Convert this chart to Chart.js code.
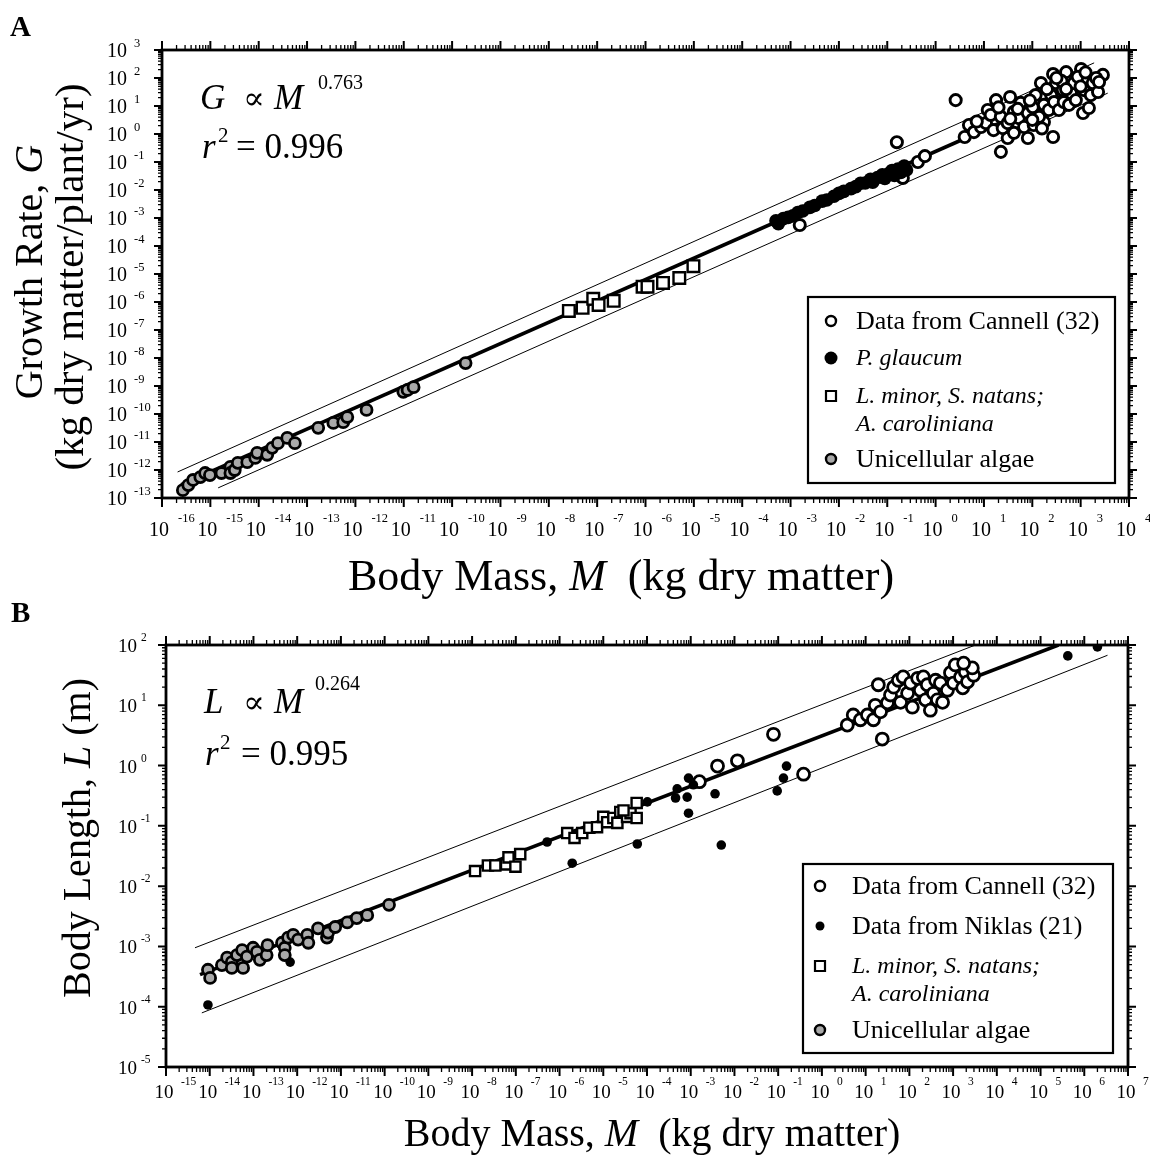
<!DOCTYPE html>
<html><head><meta charset="utf-8">
<script src="https://cdn.jsdelivr.net/npm/chart.js@4.4.0/dist/chart.umd.min.js"></script>
<style>
html,body{margin:0;padding:0;background:#fff;}
#wrap{position:relative;width:1150px;height:1155px;overflow:hidden;background:#fff;}
canvas{position:absolute;left:0;top:0;}
</style></head><body>
<div id="wrap">
<canvas id="cA" width="1150" height="1155" style="width:1150px;height:1155px"></canvas>
<canvas id="cB" width="1150" height="1155" style="width:1150px;height:1155px"></canvas>
</div>
<script>
// ---------- Panel A data (body mass M, growth rate G) ----------
const cannellA_M = [1.55e-3, 0.158, 0.21, 0.43, 0.60, 2.6, 4.0, 22.4, 269, 1120, 1480, 2880, 1020, 501, 269, 151, 309, 81, 174, 31, 17.8, 34.7, 12.0, 4.9, 6.2, 8.7, 11.0, 13.8, 15.8, 22.4, 24.5, 31, 41.7, 41.7, 52.5, 57.5, 67.6, 81, 102, 107, 117, 138, 174, 219, 245, 282, 355, 427, 447, 575, 631, 724, 794, 871, 1175, 1410, 1620, 1780, 2090, 2290, 2400, 7.1, 20, 50, 89, 200, 400, 158, 35, 100, 500, 1000, 316, 1260];
const cannellA_G = [5.6e-4, 0.51, 2.7e-2, 0.1, 0.162, 16.2, 0.78, 0.23, 0.78, 5.6, 8.5, 129, 209, 162, 138, 66, 66, 0.72, 2.7, 0.72, 16.2, 20.9, 7.2, 2.1, 1.17, 1.78, 2.45, 4.8, 1.38, 4.1, 1.62, 2.45, 6.2, 1.1, 3.7, 12.9, 1.78, 5.6, 9.1, 2.1, 24.5, 4.1, 11.0, 7.2, 24.5, 13.8, 7.2, 37, 13.8, 11.0, 28.8, 66, 16.2, 110, 37, 85, 24.5, 66, 100, 31.6, 72, 2.8, 8.9, 7.9, 15.8, 40, 79, 1.58, 3.5, 3.2, 40, 50, 100, 158];
const glaucumA_M = [5.0e-4, 5.6e-4, 7.1e-4, 8.9e-4, 1.12e-3, 1.41e-3, 1.78e-3, 2.5e-3, 3.16e-3, 4.5e-3, 5.6e-3, 7.9e-3, 1.0e-2, 1.26e-2, 1.78e-2, 2.24e-2, 2.8e-2, 3.5e-2, 4.5e-2, 5.0e-2, 6.3e-2, 7.9e-2, 8.9e-2, 0.112, 0.126, 0.141, 0.166, 0.19, 0.224, 0.25];
const glaucumA_G = [7.9e-4, 6.3e-4, 9.5e-4, 1.05e-3, 1.2e-3, 1.58e-3, 1.78e-3, 2.4e-3, 2.8e-3, 4.0e-3, 4.4e-3, 6.0e-3, 7.6e-3, 8.9e-3, 1.12e-2, 1.32e-2, 1.74e-2, 1.78e-2, 2.4e-2, 1.9e-2, 2.8e-2, 3.5e-2, 2.6e-2, 4.0e-2, 5.0e-2, 3.3e-2, 5.6e-2, 4.2e-2, 7.1e-2, 5.2e-2];
const lemnaA_M = [2.6e-8, 5.0e-8, 8.3e-8, 1.07e-7, 2.2e-7, 8.7e-7, 1.1e-6, 2.3e-6, 5.0e-6, 9.8e-6];
const lemnaA_G = [4.8e-7, 6.2e-7, 1.3e-6, 7.8e-7, 1.1e-6, 3.5e-6, 3.5e-6, 4.8e-6, 7.2e-6, 1.9e-5];
const algaeA_M = [2.7e-16, 3.5e-16, 4.4e-16, 6.2e-16, 7.8e-16, 9.8e-16, 1.7e-15, 2.6e-15, 2.6e-15, 3.2e-15, 3.7e-15, 5.8e-15, 8.5e-15, 9.3e-15, 1.5e-14, 1.9e-14, 2.5e-14, 3.9e-14, 5.6e-14, 1.7e-13, 3.5e-13, 5.6e-13, 6.8e-13, 1.7e-12, 9.8e-12, 1.2e-11, 1.6e-11, 1.9e-10];
const algaeA_G = [1.9e-13, 2.9e-13, 4.4e-13, 5.6e-13, 7.8e-13, 6.6e-13, 7.8e-13, 1.3e-12, 7.8e-13, 1.0e-12, 1.8e-12, 1.9e-12, 2.7e-12, 4.1e-12, 3.5e-12, 6.2e-12, 9.1e-12, 1.4e-11, 9.1e-12, 3.2e-11, 4.8e-11, 5.1e-11, 7.8e-11, 1.4e-10, 6.2e-10, 7.2e-10, 9.1e-10, 6.6e-9];
const fitA_M = [2.5e-16, 2820], fitA_G = [3.0e-13, 102];
const upperA_M = [2.1e-16, 1900], upperA_G = [8.5e-13, 347];
const lowerA_M = [1.45e-15, 3630], lowerA_G = [2.3e-13, 28.8];
const xExpA = [-16, -15, -14, -13, -12, -11, -10, -9, -8, -7, -6, -5, -4, -3, -2, -1, 0, 1, 2, 3, 4];
const yExpA = [-13, -12, -11, -10, -9, -8, -7, -6, -5, -4, -3, -2, -1, 0, 1, 2, 3];

// ---------- Panel B data (body mass M, body length L) ----------
const cannellB_M = [1.58e-3, 4.1e-3, 1.17e-2, 7.8e-2, 0.38, 19.5, 24, 3.8, 5.2, 7.6, 11, 15.1, 16.6, 21.9, 31.6, 37, 43.7, 56, 63, 72, 91, 107, 117, 155, 178, 209, 234, 257, 302, 355, 398, 437, 513, 575, 741, 871, 1020, 1120, 1480, 1660, 1900, 2140, 2950, 2750, 1740];
const cannellB_L = [0.54, 0.98, 1.2, 3.3, 0.72, 21.9, 2.75, 4.7, 6.9, 5.75, 6.9, 5.75, 10, 7.8, 11, 14.8, 20, 26, 11.2, 29.5, 15.8, 23.4, 9.3, 28, 17.8, 29.5, 12.3, 21.9, 8.3, 15.8, 26, 12.3, 23.4, 11.2, 17.8, 34.7, 23.4, 46.8, 29.5, 19.5, 35.5, 24.5, 31.6, 41.7, 50];
const niklasB_M = [9.1e-15, 9.1e-15, 6.9e-13, 5.2e-7, 1.95e-6, 6.0e-5, 1.02e-4, 4.5e-4, 4.9e-4, 8.3e-4, 8.9e-4, 8.9e-4, 1.15e-3, 3.6e-3, 5.0e-3, 9.5e-2, 0.132, 0.155, 4.2e5, 2.0e6];
const niklasB_L = [4.3e-4, 1.07e-4, 5.5e-4, 5.4e-2, 2.4e-2, 5.0e-2, 0.25, 0.29, 0.41, 0.30, 0.62, 0.162, 0.48, 0.34, 4.8e-2, 0.38, 0.62, 0.98, 66, 93];
const lemnaB_M = [1.17e-8, 2.3e-8, 3.4e-8, 6.0e-8, 6.8e-8, 9.8e-8, 1.26e-7, 1.5e-6, 2.2e-6, 3.3e-6, 4.8e-6, 7.2e-6, 1.0e-5, 1.23e-5, 1.7e-5, 2.1e-5, 2.45e-5, 3.5e-5, 4.2e-5, 5.8e-5, 5.8e-5, 2.9e-5];
const lemnaB_L = [1.78e-2, 2.2e-2, 2.2e-2, 2.3e-2, 3.0e-2, 2.1e-2, 3.4e-2, 7.6e-2, 6.3e-2, 7.6e-2, 9.3e-2, 9.5e-2, 0.141, 0.115, 0.135, 0.112, 0.17, 0.141, 0.162, 0.135, 0.24, 0.18];
const algaeB_M = [9.1e-15, 1.02e-14, 1.9e-14, 2.5e-14, 3.2e-14, 3.2e-14, 4.2e-14, 5.5e-14, 5.8e-14, 7.1e-14, 9.8e-14, 1.2e-13, 1.4e-13, 2.0e-13, 2.1e-13, 4.5e-13, 5.2e-13, 5.2e-13, 6.2e-13, 8.1e-13, 1.05e-12, 1.7e-12, 1.8e-12, 3.0e-12, 4.8e-12, 5.1e-12, 7.4e-12, 1.4e-11, 2.3e-11, 4.0e-11, 1.26e-10];
const algaeB_L = [4.1e-4, 3.0e-4, 4.9e-4, 6.5e-4, 5.5e-4, 4.4e-4, 7.2e-4, 8.7e-4, 4.4e-4, 6.8e-4, 9.5e-4, 8.1e-4, 6.0e-4, 7.2e-4, 1.05e-3, 1.15e-3, 9.5e-4, 7.2e-4, 1.4e-3, 1.55e-3, 1.3e-3, 1.55e-3, 1.15e-3, 2.0e-3, 1.4e-3, 1.7e-3, 2.1e-3, 2.5e-3, 2.95e-3, 3.3e-3, 4.9e-3];
const fitB_M = [6.0e-15, 2.57e5], fitB_L = [3.4e-4, 100];
const upperB_M = [4.6e-15, 3240], upperB_L = [9.5e-4, 100];
const lowerB_M = [6.6e-15, 3.4e6], lowerB_L = [7.9e-5, 67.6];
const xExpB = [-15, -14, -13, -12, -11, -10, -9, -8, -7, -6, -5, -4, -3, -2, -1, 0, 1, 2, 3, 4, 5, 6, 7];
const yExpB = [-5, -4, -3, -2, -1, 0, 1, 2];

// ---------- helpers ----------
const SERIF = '"Liberation Serif", "Times New Roman", "DejaVu Serif", serif';
function F(size, style) { return (style ? style + ' ' : '') + size + 'px ' + SERIF; }
function pts(xs, ys) { return xs.map((v, i) => ({ x: v, y: ys[i] })); }
function scatterSet(label, xs, ys, o) {
  return Object.assign({ label, data: pts(xs, ys), showLine: false, order: 1, pointHoverRadius: 0 }, o);
}
function lineSet(label, xs, ys, w) {
  return { label, data: pts(xs, ys), showLine: true, borderColor: '#000', borderWidth: w,
           pointRadius: 0, pointHoverRadius: 0, order: 10, fill: false };
}
function runs(ctx, parts, x, y, align) {
  let total = 0;
  parts.forEach(p => { ctx.font = p[1]; total += ctx.measureText(p[0]).width; });
  let cx = align === 'center' ? x - total / 2 : x;
  ctx.textAlign = 'left'; ctx.textBaseline = 'alphabetic';
  parts.forEach(p => { ctx.font = p[1]; ctx.fillText(p[0], cx, y); cx += ctx.measureText(p[0]).width; });
}
function vruns(ctx, parts, x, y) {
  ctx.save(); ctx.translate(x, y); ctx.rotate(-Math.PI / 2); runs(ctx, parts, 0, 0, 'center'); ctx.restore();
}
function marker(ctx, kind, x, y, r) {
  ctx.save();
  ctx.strokeStyle = '#000';
  ctx.beginPath();
  if (kind === 'square') {
    ctx.lineWidth = 2.2; ctx.fillStyle = '#fff';
    ctx.rect(x - r, y - r, 2 * r, 2 * r); ctx.fill(); ctx.stroke();
  } else {
    ctx.arc(x, y, r, 0, Math.PI * 2);
    if (kind === 'filled') { ctx.fillStyle = '#000'; ctx.fill(); }
    else { ctx.lineWidth = 2.4; ctx.fillStyle = kind === 'algae' ? '#a9a9a9' : '#fff'; ctx.fill(); ctx.stroke(); }
  }
  ctx.restore();
}
function frame(chart, xExp, yExp, lab) {
  const { ctx, chartArea: a, scales } = chart;
  const sx = scales.x, sy = scales.y;
  ctx.save();
  ctx.strokeStyle = '#000'; ctx.fillStyle = '#000';
  for (let i = 0; i < xExp.length; i++) {
    for (let m = 1; m <= 9; m++) {
      if (i === xExp.length - 1 && m > 1) break;
      const p = sx.getPixelForValue(m * Number('1e' + xExp[i]));
      const L = m === 1 ? 9 : 5;
      ctx.lineWidth = m === 1 ? 2 : 1.3;
      ctx.beginPath();
      ctx.moveTo(p, a.bottom); ctx.lineTo(p, a.bottom + L);
      ctx.moveTo(p, a.top); ctx.lineTo(p, a.top - L);
      ctx.stroke();
    }
  }
  for (let i = 0; i < yExp.length; i++) {
    for (let m = 1; m <= 9; m++) {
      if (i === yExp.length - 1 && m > 1) break;
      const p = sy.getPixelForValue(m * Number('1e' + yExp[i]));
      const L = m === 1 ? 8 : 4;
      ctx.lineWidth = m === 1 ? 2 : 1.3;
      ctx.beginPath();
      ctx.moveTo(a.left, p); ctx.lineTo(a.left - L, p);
      ctx.moveTo(a.right, p); ctx.lineTo(a.right + L, p);
      ctx.stroke();
    }
  }
  ctx.lineWidth = 2.8;
  ctx.strokeRect(a.left, a.top, a.right - a.left, a.bottom - a.top);
  // tick labels
  for (const e of xExp) {
    const p = sx.getPixelForValue(Number('1e' + e));
    ctx.font = F(lab.tick); ctx.textAlign = 'center'; ctx.textBaseline = 'alphabetic';
    ctx.fillText('10', p + lab.xTenDx, lab.xTenY);
    ctx.font = F(lab.sup); ctx.textAlign = 'left';
    ctx.fillText(String(e), p + lab.xSupDx, lab.xSupY);
  }
  for (const e of yExp) {
    const p = sy.getPixelForValue(Number('1e' + e));
    ctx.font = F(lab.tick); ctx.textAlign = 'right'; ctx.textBaseline = 'alphabetic';
    ctx.fillText('10', lab.yTenRight, p + lab.yTenDy);
    ctx.font = F(lab.sup); ctx.textAlign = 'left';
    ctx.fillText(String(e), lab.ySupX, p + lab.ySupDy);
  }
  ctx.restore();
}
function legend(ctx, box, items) {
  ctx.save();
  ctx.fillStyle = '#fff'; ctx.fillRect(box.x, box.y, box.w, box.h);
  ctx.strokeStyle = '#000'; ctx.lineWidth = 2.2; ctx.strokeRect(box.x, box.y, box.w, box.h);
  ctx.fillStyle = '#000';
  items.forEach(it => {
    if (it.kind) marker(ctx, it.kind, box.mx, it.y, it.r);
    ctx.font = it.font; ctx.textAlign = 'left'; ctx.textBaseline = 'middle';
    ctx.fillText(it.text, box.tx, it.y + 1);
  });
  ctx.restore();
}
function baseOptions(pad, xMin, xMax, yMin, yMax) {
  return {
    responsive: false, devicePixelRatio: 1, animation: false,
    layout: { padding: pad },
    plugins: { legend: { display: false }, tooltip: { enabled: false } },
    events: [],
    scales: {
      x: { type: 'logarithmic', min: xMin, max: xMax, display: false },
      y: { type: 'logarithmic', min: yMin, max: yMax, display: false }
    }
  };
}

// ---------- Panel A ----------
const decoA = {
  id: 'decoA',
  afterDraw(chart) {
    const ctx = chart.ctx;
    frame(chart, xExpA, yExpA, { tick: 20, sup: 12.5, xTenDx: -3, xTenY: 536, xSupDx: 16, xSupY: 522,
                                 yTenRight: 127, yTenDy: 7, ySupX: 134, ySupDy: -3 });
    ctx.save(); ctx.fillStyle = '#000';
    ctx.font = F(29, 'bold'); ctx.textAlign = 'left'; ctx.textBaseline = 'alphabetic';
    ctx.fillText('A', 10, 36);
    runs(ctx, [['Body Mass, ', F(44)], ['M', F(44, 'italic')], ['  (kg dry matter)', F(44)]], 621, 590, 'center');
    vruns(ctx, [['Growth Rate, ', F(40)], ['G', F(40, 'italic')]], 42, 272);
    vruns(ctx, [['(kg dry matter/plant/yr)', F(41)]], 83, 277);
    ctx.textAlign = 'left';
    ctx.font = F(35, 'italic'); ctx.fillText('G', 200, 109);
    ctx.font = F(32); ctx.fillText('\u221D', 243, 109);
    ctx.font = F(35, 'italic'); ctx.fillText('M', 274, 109);
    ctx.font = F(20); ctx.fillText('0.763', 318, 89);
    ctx.font = F(35, 'italic'); ctx.fillText('r', 202, 158);
    ctx.font = F(21); ctx.fillText('2', 218, 142);
    ctx.font = F(35); ctx.fillText('= 0.996', 236, 158);
    ctx.restore();
    legend(ctx, { x: 808, y: 297, w: 307, h: 186, mx: 831, tx: 856 }, [
      { kind: 'open', r: 5, y: 321, text: 'Data from Cannell (32)', font: F(26) },
      { kind: 'filled', r: 6.5, y: 358, text: 'P. glaucum', font: F(24, 'italic') },
      { kind: 'square', r: 5, y: 396, text: 'L. minor, S. natans;', font: F(24, 'italic') },
      { kind: null, y: 424, text: 'A. caroliniana', font: F(24, 'italic') },
      { kind: 'algae', r: 5, y: 459, text: 'Unicellular algae', font: F(26) }
    ]);
  }
};
new Chart(document.getElementById('cA'), {
  type: 'scatter',
  data: { datasets: [
    lineSet('Fit', fitA_M, fitA_G, 3.6),
    lineSet('Upper', upperA_M, upperA_G, 1),
    lineSet('Lower', lowerA_M, lowerA_G, 1),
    scatterSet('Unicellular algae', algaeA_M, algaeA_G, { pointRadius: 5.5, borderWidth: 2.8, borderColor: '#000', backgroundColor: '#a9a9a9' }),
    scatterSet('L. minor, S. natans; A. caroliniana', lemnaA_M, lemnaA_G, { pointStyle: 'rect', pointRadius: 8.2, borderWidth: 2.4, borderColor: '#000', backgroundColor: '#fff' }),
    scatterSet('P. glaucum', glaucumA_M, glaucumA_G, { pointRadius: 6.8, borderWidth: 0, backgroundColor: '#000' }),
    scatterSet('Data from Cannell (32)', cannellA_M, cannellA_G, { pointRadius: 5.6, borderWidth: 2.9, borderColor: '#000', backgroundColor: '#fff' })
  ] },
  options: baseOptions({ left: 162, right: 21, top: 50, bottom: 657 }, 1e-16, 1e4, 1e-13, 1e3),
  plugins: [decoA]
});

// ---------- Panel B ----------
const decoB = {
  id: 'decoB',
  afterDraw(chart) {
    const ctx = chart.ctx;
    frame(chart, xExpB, yExpB, { tick: 19, sup: 11.5, xTenDx: -2, xTenY: 1098, xSupDx: 15, xSupY: 1085,
                                 yTenRight: 137, yTenDy: 7, ySupX: 141, ySupDy: -4 });
    ctx.save(); ctx.fillStyle = '#000';
    ctx.font = F(29, 'bold'); ctx.textAlign = 'left'; ctx.textBaseline = 'alphabetic';
    ctx.fillText('B', 11, 622);
    runs(ctx, [['Body Mass, ', F(40)], ['M', F(40, 'italic')], ['  (kg dry matter)', F(40)]], 652, 1146, 'center');
    vruns(ctx, [['Body Length, ', F(40)], ['L', F(40, 'italic')], [' (m)', F(40)]], 90, 838);
    ctx.textAlign = 'left';
    ctx.font = F(35, 'italic'); ctx.fillText('L', 204, 713);
    ctx.font = F(32); ctx.fillText('\u221D', 243, 713);
    ctx.font = F(35, 'italic'); ctx.fillText('M', 274, 713);
    ctx.font = F(20); ctx.fillText('0.264', 315, 690);
    ctx.font = F(35, 'italic'); ctx.fillText('r', 205, 765);
    ctx.font = F(21); ctx.fillText('2', 220, 749);
    ctx.font = F(35); ctx.fillText('= 0.995', 241, 765);
    ctx.restore();
    legend(ctx, { x: 803, y: 864, w: 310, h: 189, mx: 820, tx: 852 }, [
      { kind: 'open', r: 5, y: 886, text: 'Data from Cannell (32)', font: F(26) },
      { kind: 'filled', r: 4.5, y: 926, text: 'Data from Niklas (21)', font: F(26) },
      { kind: 'square', r: 5, y: 966, text: 'L. minor, S. natans;', font: F(24, 'italic') },
      { kind: null, y: 994, text: 'A. caroliniana', font: F(24, 'italic') },
      { kind: 'algae', r: 5, y: 1030, text: 'Unicellular algae', font: F(26) }
    ]);
  }
};
new Chart(document.getElementById('cB'), {
  type: 'scatter',
  data: { datasets: [
    lineSet('Fit', fitB_M, fitB_L, 3.6),
    lineSet('Upper', upperB_M, upperB_L, 1),
    lineSet('Lower', lowerB_M, lowerB_L, 1),
    scatterSet('Unicellular algae', algaeB_M, algaeB_L, { pointRadius: 5.5, borderWidth: 2.8, borderColor: '#000', backgroundColor: '#a9a9a9' }),
    scatterSet('L. minor, S. natans; A. caroliniana', lemnaB_M, lemnaB_L, { pointStyle: 'rect', pointRadius: 7.2, borderWidth: 2.4, borderColor: '#000', backgroundColor: '#fff' }),
    scatterSet('Data from Niklas (21)', niklasB_M, niklasB_L, { pointRadius: 4.8, borderWidth: 0, backgroundColor: '#000' }),
    scatterSet('Data from Cannell (32)', cannellB_M, cannellB_L, { pointRadius: 6, borderWidth: 2.8, borderColor: '#000', backgroundColor: '#fff' })
  ] },
  options: baseOptions({ left: 166, right: 22, top: 645, bottom: 88 }, 1e-15, 1e7, 1e-5, 1e2),
  plugins: [decoB]
});
</script>
</body></html>
